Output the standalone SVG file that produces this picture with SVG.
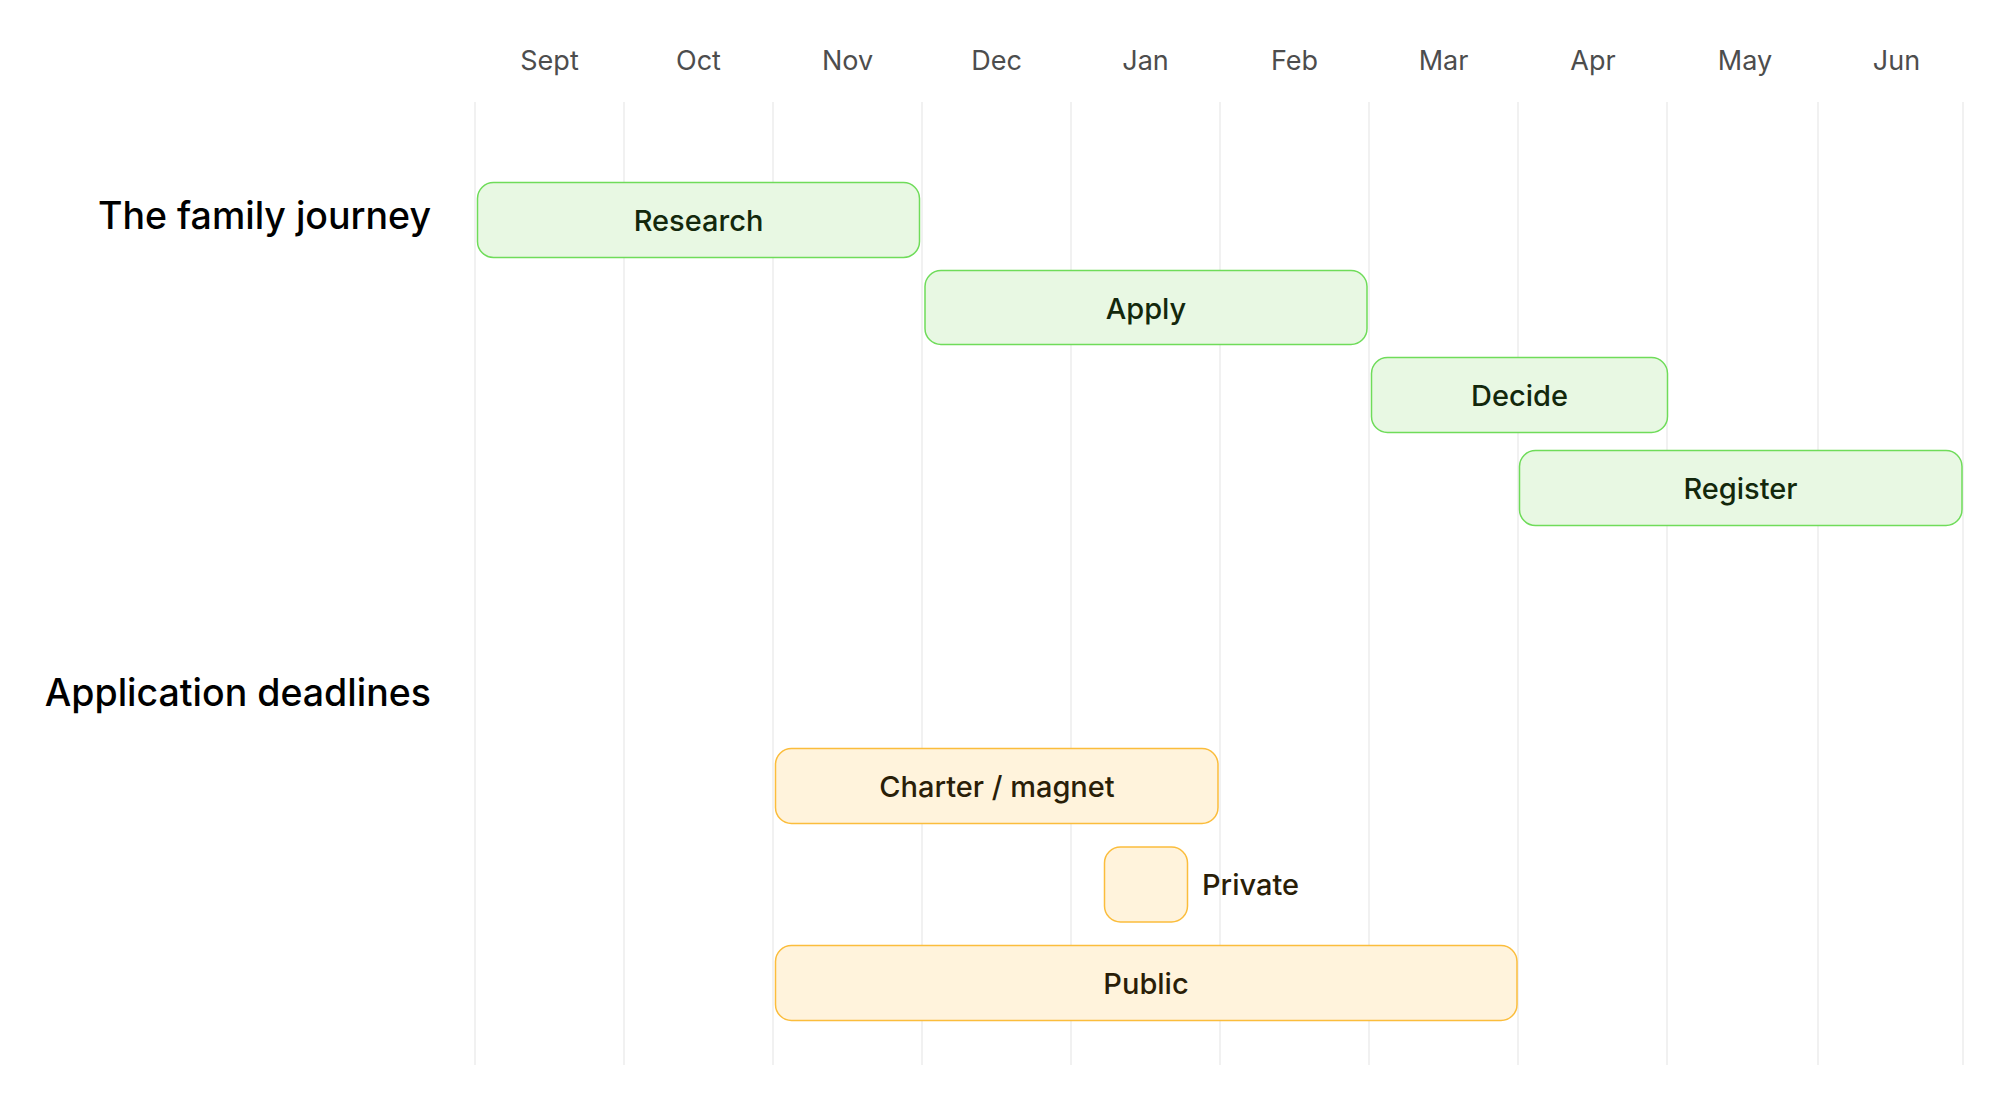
<svg xmlns="http://www.w3.org/2000/svg" width="2000" height="1109" viewBox="0 0 2000 1109">
<style>
text{font-family:Inter,"Noto Sans","Liberation Sans",sans-serif}
.month{font-size:27px;fill:#4d4d4d;text-anchor:middle}
.grid line{stroke:#ececec;stroke-width:1.5}
.section{font-size:37.5px;font-weight:500;fill:#000;text-anchor:end}
.g rect{fill:#e8f8e3;stroke:#6fdc5a;stroke-width:1.5}
.o rect{fill:#fff3dc;stroke:#fbbd3c;stroke-width:1.5}
.g text{font-size:29px;font-weight:500;fill:#13280c;text-anchor:middle}
.o text{font-size:29px;font-weight:500;fill:#2a1e08;text-anchor:middle}
</style>
<rect width="2000" height="1109" fill="#fff"/>
<g id="months">
<text class="month" x="549.5" y="70">Sept</text>
<text class="month" x="698.5" y="70">Oct</text>
<text class="month" x="847.5" y="70">Nov</text>
<text class="month" x="996.5" y="70">Dec</text>
<text class="month" x="1145.5" y="70">Jan</text>
<text class="month" x="1294.5" y="70">Feb</text>
<text class="month" x="1443.5" y="70">Mar</text>
<text class="month" x="1593" y="70">Apr</text>
<text class="month" x="1745" y="70">May</text>
<text class="month" x="1896.5" y="70">Jun</text>
</g>
<g id="grid" class="grid">
<line x1="475" y1="102" x2="475" y2="1065"/>
<line x1="624" y1="102" x2="624" y2="1065"/>
<line x1="773" y1="102" x2="773" y2="1065"/>
<line x1="922" y1="102" x2="922" y2="1065"/>
<line x1="1071" y1="102" x2="1071" y2="1065"/>
<line x1="1220" y1="102" x2="1220" y2="1065"/>
<line x1="1369" y1="102" x2="1369" y2="1065"/>
<line x1="1518" y1="102" x2="1518" y2="1065"/>
<line x1="1667" y1="102" x2="1667" y2="1065"/>
<line x1="1818" y1="102" x2="1818" y2="1065"/>
<line x1="1963" y1="102" x2="1963" y2="1065"/>
</g>
<g id="section-journey"><text class="section" x="431" y="229">The family journey</text></g>
<g id="section-deadlines"><text class="section" x="431" y="706">Application deadlines</text></g>
<g id="connectors"></g>
<g id="research" class="g"><rect x="477.5" y="182.5" width="442" height="75" rx="16"/><text x="698.5" y="231">Research</text></g>
<g id="apply" class="g"><rect x="925" y="270.5" width="442" height="74" rx="16"/><text x="1146" y="319">Apply</text></g>
<g id="decide" class="g"><rect x="1371.5" y="357.5" width="296" height="75" rx="16"/><text x="1519.5" y="406">Decide</text></g>
<g id="register" class="g"><rect x="1519.5" y="450.5" width="442.5" height="75" rx="16"/><text x="1740.5" y="499">Register</text></g>
<g id="charter" class="o"><rect x="775.5" y="748.5" width="442.5" height="75" rx="16"/><text x="997" y="797">Charter / magnet</text></g>
<g id="private" class="o"><rect x="1104.5" y="847" width="83" height="75" rx="16"/><text x="1202" y="895" style="text-anchor:start">Private</text></g>
<g id="public" class="o"><rect x="775.5" y="945.5" width="741.5" height="75" rx="16"/><text x="1146" y="994">Public</text></g>
</svg>
